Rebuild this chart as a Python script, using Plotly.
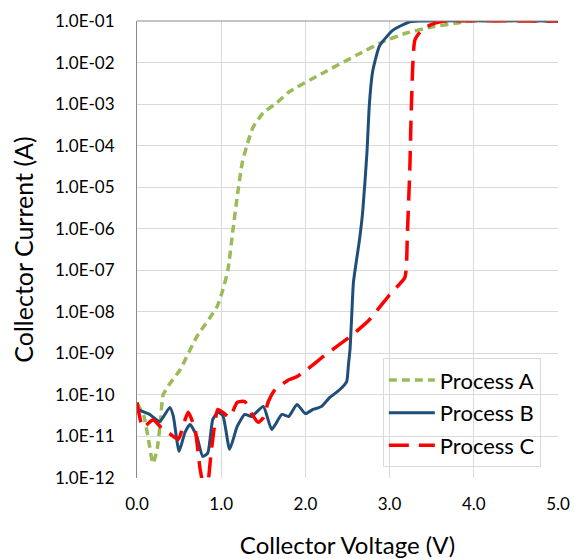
import plotly.graph_objects as go

# ---- data (voltage in V, current as log10(A)) ----
proc_a_v = [0.0, 0.08, 0.13, 0.19, 0.24, 0.28, 0.31, 0.40, 0.51, 0.71, 0.95, 1.02, 1.08,
            1.14, 1.19, 1.25, 1.30, 1.38, 1.50, 1.66, 1.81, 2.21, 2.61, 2.92, 3.2, 3.51,
            3.83, 3.95, 5.0]
proc_a_log = [-10.2, -10.5, -11.0, -11.65, -11.3, -10.6, -10.0, -9.7, -9.4, -8.6, -7.88,
              -7.47, -6.99, -6.02, -5.23, -4.41, -4.03, -3.55, -3.21, -2.97, -2.70, -2.25,
              -1.82, -1.50, -1.29, -1.14, -1.04, -1.0, -1.0]

proc_b_v = [0.0, 0.15, 0.27, 0.39, 0.43, 0.50, 0.57, 0.63, 0.71, 0.78, 0.84, 0.90, 0.96,
            1.02, 1.10, 1.19, 1.28, 1.36, 1.50, 1.60, 1.72, 1.80, 1.90, 2.0, 2.09, 2.19,
            2.29, 2.41, 2.49, 2.51, 2.53, 2.55, 2.57, 2.60, 2.64, 2.68, 2.73, 2.76, 2.80,
            2.88, 3.04, 3.24, 3.35, 5.0]
proc_b_log = [-10.35, -10.47, -10.64, -10.30, -10.5, -11.36, -10.9, -10.71, -11.0, -11.48,
              -11.4, -10.59, -10.42, -10.5, -11.31, -10.76, -10.47, -10.52, -10.28, -10.83,
              -10.47, -10.52, -10.23, -10.45, -10.35, -10.28, -10.06, -9.87, -9.68, -9.3,
              -8.9, -8.1, -7.3, -6.85, -6.3, -5.6, -4.2, -3.0, -2.2, -1.6, -1.22, -1.02,
              -1.0, -1.0]

proc_c_v = [0.0, 0.07, 0.19, 0.27, 0.31, 0.40, 0.49, 0.57, 0.61, 0.69, 0.75, 0.82, 0.88,
            0.96, 1.02, 1.10, 1.19, 1.28, 1.36, 1.44, 1.50, 1.56, 1.64, 1.81, 1.90, 2.02,
            2.21, 2.56, 2.76, 3.0, 3.18, 3.20, 3.21, 3.24, 3.26, 3.30, 3.38, 3.48, 3.6,
            3.7, 5.0]
proc_c_log = [-10.18, -10.78, -10.6, -10.75, -10.85, -10.95, -11.07, -10.6, -10.42, -10.83,
              -11.79, -12.5, -11.4, -10.35, -10.42, -10.54, -10.18, -10.16, -10.45, -10.66,
              -10.55, -10.16, -9.87, -9.63, -9.56, -9.39, -9.08, -8.55, -8.19, -7.59, -7.18,
              -6.9, -6.2, -4.58, -2.97, -1.46, -1.22, -1.10, -1.02, -1.0, -1.0]

y_tick_exps = list(range(-12, 0))
y_tick_text = ["1.0E-%02d" % (-e) for e in y_tick_exps]
x_tick_vals = [0, 1, 2, 3, 4, 5]
x_tick_text = ["0.0", "1.0", "2.0", "3.0", "4.0", "5.0"]

FONT = "Lato"

fig = go.Figure()
fig.add_trace(go.Scatter(
    x=proc_a_v, y=[10 ** v for v in proc_a_log], mode="lines", name="Process A",
    legendgroup="a",
    line=dict(color="#9BBB59", width=3.5, dash="8px,5px", shape="spline", smoothing=0.5)))
fig.add_trace(go.Scatter(
    x=proc_b_v, y=[10 ** v for v in proc_b_log], mode="lines", name="Process B",
    legendgroup="b",
    line=dict(color="#1F4E79", width=3, shape="spline", smoothing=0.5)))
fig.add_trace(go.Scatter(
    x=proc_c_v, y=[10 ** v for v in proc_c_log], mode="lines", name="Process C",
    legendgroup="c",
    line=dict(color="#FF0000", width=3.5, dash="20px,10px", shape="spline", smoothing=0.5)))

fig.update_layout(
    width=574, height=559,
    margin=dict(l=137, r=16, t=21, b=81, autoexpand=False),
    paper_bgcolor="white", plot_bgcolor="white",
    font=dict(family=FONT, color="#000000"),
    legend=dict(
        x=0.584, y=0.262, xanchor="left", yanchor="top",
        bgcolor="rgba(0,0,0,0)", bordercolor="#D9D9D9", borderwidth=1,
        font=dict(size=22, family=FONT, color="#000000"),
        traceorder="grouped", tracegroupgap=1, itemwidth=46,
    ),
    xaxis=dict(
        range=[0, 5], tickvals=x_tick_vals, ticktext=x_tick_text, automargin=False,
        showgrid=True, gridcolor="#D9D9D9", gridwidth=1, zeroline=False,
        showline=False, ticks="", ticklabelstandoff=14,
        tickfont=dict(size=17, family=FONT, color="#000000"),
        title=dict(text="Collector Voltage (V)", font=dict(size=24, family=FONT, color="#000000"),
                   standoff=28),
    ),
    yaxis=dict(
        type="log", range=[-12, -1], automargin=False,
        tickvals=[10 ** e for e in y_tick_exps], ticktext=y_tick_text,
        showgrid=True, gridcolor="#D9D9D9", gridwidth=1, zeroline=False,
        showline=True, linecolor="#898989", linewidth=1, ticks="", ticklabelstandoff=18,
        tickfont=dict(size=17, family=FONT, color="#000000"),
        title=dict(text="Collector Current (A)", font=dict(size=25, family=FONT, color="#000000"),
                   standoff=14),
    ),
)
fig.add_shape(type="line", xref="paper", yref="paper", x0=0, x1=1, y0=1, y1=1,
              line=dict(color="#898989", width=1))

fig.write_html("out.html")
